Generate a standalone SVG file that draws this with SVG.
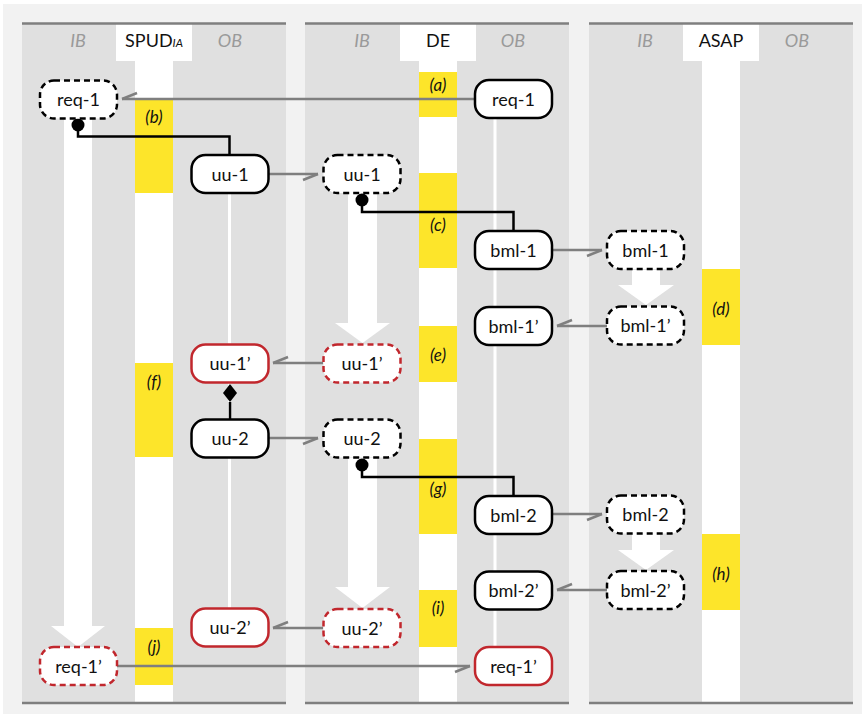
<svg xmlns="http://www.w3.org/2000/svg" width="865" height="717" viewBox="0 0 865 717">
<defs>
<style>
.panel{fill:#e0e0e0}
.rule{stroke:#7f7f7f;stroke-width:2.5}
.hdr{fill:#ffffff}
.col{fill:#ffffff}
.bar{fill:#fde52a}
.lane{font-family:Lato,"Liberation Sans",sans-serif;font-size:18px;font-style:italic;fill:#9a9a9a;text-anchor:middle}
.title{font-family:Lato,"Liberation Sans",sans-serif;font-size:18px;fill:#111;text-anchor:middle}
.lbl{font-family:Lato,"Liberation Sans",sans-serif;font-size:17px;font-style:italic;fill:#111;text-anchor:middle}
.ntext{font-family:Lato,"Liberation Sans",sans-serif;font-size:18px;fill:#111;text-anchor:middle}
.n{fill:#ffffff;stroke:#000;stroke-width:2.5}
.nd{fill:#ffffff;stroke:#000;stroke-width:2.5;stroke-dasharray:6 4}
.r{fill:#ffffff;stroke:#c1272d;stroke-width:2.5}
.rd{fill:#ffffff;stroke:#c1272d;stroke-width:2.5;stroke-dasharray:6 4}
.msg{fill:none;stroke:#7f7f7f;stroke-width:2.5;marker-end:url(#harp)}
.spawn{fill:none;stroke:#000;stroke-width:2.5}
.thin{stroke:#ffffff;stroke-width:3}
.big{fill:#ffffff}
</style>
<marker id="harp" markerUnits="userSpaceOnUse" markerWidth="20" markerHeight="20" refX="0" refY="0" orient="auto" overflow="visible">
<path d="M0,0 L-15,6" fill="none" stroke="#7f7f7f" stroke-width="2.5"/>
</marker>
</defs>
<rect x="0" y="0" width="865" height="717" fill="#ffffff"/>
<rect x="3" y="4" width="859" height="710" fill="#f2f2f2"/>

<g id="panel-spud">
<rect class="panel" x="22" y="23" width="264" height="680"/>
<rect class="hdr" x="116" y="24" width="76" height="37"/>
<rect class="col" x="135" y="60" width="38" height="643"/>
<line class="rule" x1="22" y1="23.5" x2="286" y2="23.5"/>
<line class="rule" x1="22" y1="703" x2="286" y2="703"/>
<text class="lane" x="78" y="47">IB</text>
<text class="lane" x="230" y="47">OB</text>
<text class="title" x="154" y="47">SPUD<tspan font-style="italic" font-size="11.5">IA</tspan></text>
</g>
<g id="panel-de">
<rect class="panel" x="305" y="23" width="264" height="680"/>
<rect class="hdr" x="400" y="24" width="76" height="37"/>
<rect class="col" x="419" y="60" width="38" height="643"/>
<line class="rule" x1="305" y1="23.5" x2="569" y2="23.5"/>
<line class="rule" x1="305" y1="703" x2="569" y2="703"/>
<text class="lane" x="362" y="47">IB</text>
<text class="lane" x="513" y="47">OB</text>
<text class="title" x="438" y="47">DE</text>
</g>
<g id="panel-asap">
<rect class="panel" x="589" y="23" width="264" height="680"/>
<rect class="hdr" x="683" y="24" width="76" height="37"/>
<rect class="col" x="702" y="60" width="38" height="643"/>
<line class="rule" x1="589" y1="23.5" x2="853" y2="23.5"/>
<line class="rule" x1="589" y1="703" x2="853" y2="703"/>
<text class="lane" x="645" y="47">IB</text>
<text class="lane" x="797" y="47">OB</text>
<text class="title" x="721" y="47">ASAP</text>
</g>

<g id="phases">
<rect class="bar" x="419" y="72" width="38" height="45"/><text class="lbl" x="438" y="90.5">(a)</text>
<rect class="bar" x="135" y="100" width="38" height="93"/><text class="lbl" x="154" y="122.5">(b)</text>
<rect class="bar" x="419" y="173" width="38" height="95"/><text class="lbl" x="438" y="230.5">(c)</text>
<rect class="bar" x="702" y="269" width="38" height="76"/><text class="lbl" x="721" y="314.5">(d)</text>
<rect class="bar" x="419" y="326" width="38" height="56"/><text class="lbl" x="438" y="360.5">(e)</text>
<rect class="bar" x="135" y="363" width="38" height="94"/><text class="lbl" x="154" y="387.5">(f)</text>
<rect class="bar" x="419" y="439" width="38" height="95"/><text class="lbl" x="438" y="494.5">(g)</text>
<rect class="bar" x="702" y="534" width="38" height="76"/><text class="lbl" x="721" y="579.5">(h)</text>
<rect class="bar" x="419" y="590" width="38" height="57"/><text class="lbl" x="438" y="613.5">(i)</text>
<rect class="bar" x="135" y="628" width="38" height="57"/><text class="lbl" x="154" y="652.5">(j)</text>
</g>

<g id="connectors">
<line class="thin" x1="229.5" y1="193" x2="229.5" y2="609"/>
<line class="thin" x1="495" y1="118" x2="495" y2="647"/>
<polygon class="big" points="64,118 92,118 92,626 105,626 78,647 51,626 64,626"/>
<polygon class="big" points="348,193 377,193 377,323 390,323 362.5,343 335,323 348,323"/>
<polygon class="big" points="348,458 377,458 377,587 390,587 362.5,608 335,587 348,587"/>
<polygon class="big" points="632,270 660,270 660,285 674,285 646,305 618,285 632,285"/>
<polygon class="big" points="632,533 660,533 660,550 674,550 646,570 618,550 632,550"/>

<path class="msg" d="M475,99 L122,99"/>
<path class="msg" d="M268,174 L318,174"/>
<path class="msg" d="M552,250 L602,250"/>
<path class="msg" d="M607,326 L557,326"/>
<path class="msg" d="M323,363 L273,363"/>
<path class="msg" d="M268,438 L318,438"/>
<path class="msg" d="M552,514 L602,514"/>
<path class="msg" d="M607,590 L557,590"/>
<path class="msg" d="M323,628 L273,628"/>
<path class="msg" d="M117,666 L470,666"/>

<path class="spawn" d="M78,125 V136.5 H229.5 V155"/>
<circle cx="78" cy="125" r="6.5" fill="#000"/>
<path class="spawn" d="M362,200 V212 H513.5 V231"/>
<circle cx="362" cy="200" r="6.5" fill="#000"/>
<path class="spawn" d="M362,465 V477 H513.5 V496"/>
<circle cx="362" cy="465" r="6.5" fill="#000"/>
<path class="spawn" d="M230,402 V419"/>
<path d="M230,384 L237,393 L230,402 L223,393 Z" fill="#000"/>
</g>

<g id="n-req1-ib"><rect class="nd" x="40" y="80.5" width="77" height="38" rx="14"/><text class="ntext" x="78.5" y="106">req-1</text></g>
<g id="n-req1-ob"><rect class="n" x="475" y="80" width="77" height="38" rx="14"/><text class="ntext" x="513.5" y="105.5">req-1</text></g>
<g id="n-uu1-ob"><rect class="n" x="191.5" y="155" width="77" height="38" rx="14"/><text class="ntext" x="230" y="180.5">uu-1</text></g>
<g id="n-uu1-ib"><rect class="nd" x="323.5" y="155" width="77" height="38" rx="14"/><text class="ntext" x="362" y="180.5">uu-1</text></g>
<g id="n-bml1-ob"><rect class="n" x="475" y="231" width="77" height="38" rx="14"/><text class="ntext" x="513.5" y="256.5">bml-1</text></g>
<g id="n-bml1-ib"><rect class="nd" x="607" y="231" width="77" height="38" rx="14"/><text class="ntext" x="645.5" y="256.5">bml-1</text></g>
<g id="n-bml1p-ob"><rect class="n" x="475" y="307" width="77" height="38" rx="14"/><text class="ntext" x="513.5" y="332.5">bml-1’</text></g>
<g id="n-bml1p-ib"><rect class="nd" x="607" y="306.5" width="77" height="38" rx="14"/><text class="ntext" x="645.5" y="332">bml-1’</text></g>
<g id="n-uu1p-ob"><rect class="r" x="191.5" y="344.5" width="77" height="38" rx="14"/><text class="ntext" x="230" y="370">uu-1’</text></g>
<g id="n-uu1p-ib"><rect class="rd" x="323.5" y="344.5" width="77" height="38" rx="14"/><text class="ntext" x="362" y="370">uu-1’</text></g>
<g id="n-uu2-ob"><rect class="n" x="191.5" y="419.5" width="77" height="38" rx="14"/><text class="ntext" x="230" y="445">uu-2</text></g>
<g id="n-uu2-ib"><rect class="nd" x="323.5" y="419.5" width="77" height="38" rx="14"/><text class="ntext" x="362" y="445">uu-2</text></g>
<g id="n-bml2-ob"><rect class="n" x="475" y="496" width="77" height="38" rx="14"/><text class="ntext" x="513.5" y="521.5">bml-2</text></g>
<g id="n-bml2-ib"><rect class="nd" x="607" y="495.5" width="77" height="38" rx="14"/><text class="ntext" x="645.5" y="521">bml-2</text></g>
<g id="n-bml2p-ob"><rect class="n" x="475" y="571.5" width="77" height="38" rx="14"/><text class="ntext" x="513.5" y="597">bml-2’</text></g>
<g id="n-bml2p-ib"><rect class="nd" x="607" y="571" width="77" height="38" rx="14"/><text class="ntext" x="645.5" y="596.5">bml-2’</text></g>
<g id="n-uu2p-ob"><rect class="r" x="191.5" y="608.5" width="77" height="38" rx="14"/><text class="ntext" x="230" y="634">uu-2’</text></g>
<g id="n-uu2p-ib"><rect class="rd" x="323.5" y="609" width="77" height="38" rx="14"/><text class="ntext" x="362" y="634.5">uu-2’</text></g>
<g id="n-req1p-ib"><rect class="rd" x="40" y="647" width="77" height="38" rx="14"/><text class="ntext" x="78.5" y="672.5">req-1’</text></g>
<g id="n-req1p-ob"><rect class="r" x="475" y="647" width="77" height="38" rx="14"/><text class="ntext" x="513.5" y="672.5">req-1’</text></g>
</svg>
